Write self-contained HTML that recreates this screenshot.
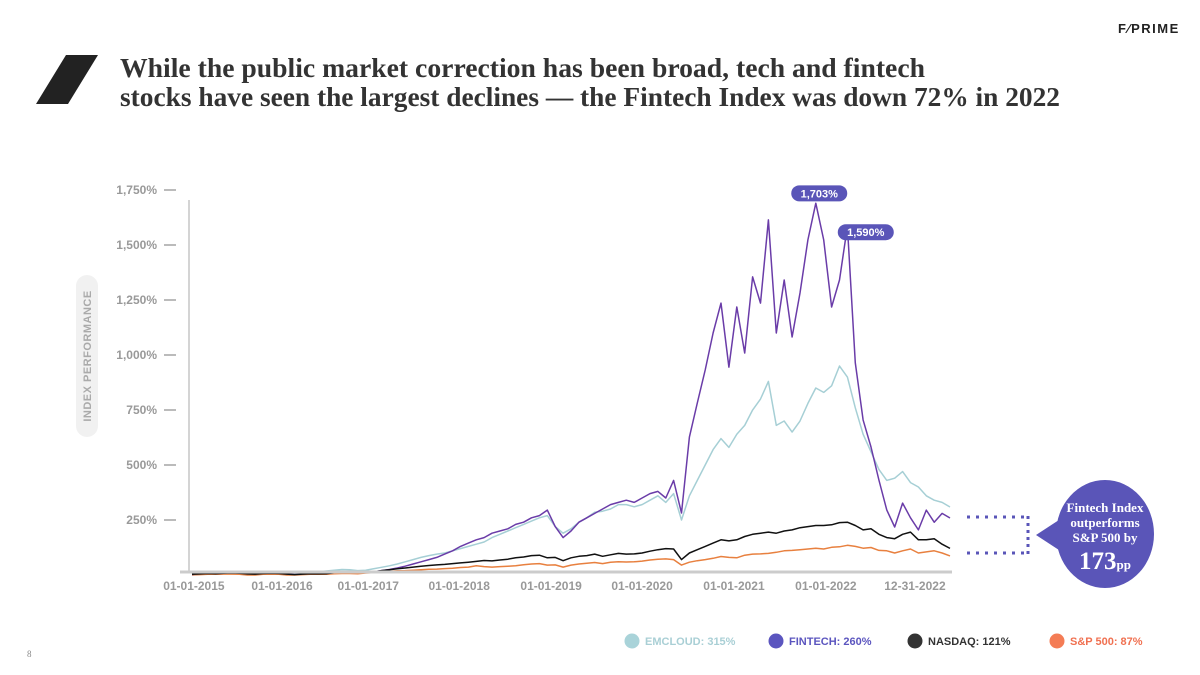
<!DOCTYPE html>
<html><head><meta charset="utf-8"><style>
html,body{margin:0;padding:0;background:#fff;}
svg{display:block;font-family:"Liberation Sans",sans-serif;}
</style></head><body>
<svg id="chart" width="1200" height="675" viewBox="0 0 1200 675" xmlns="http://www.w3.org/2000/svg">
<text x="1118" y="33" font-size="13" font-weight="bold" fill="#222" letter-spacing="1.5">F⁄PRIME</text>
<polygon points="66,55 98,55 68,104 36,104" fill="#222"/>
<g font-family="Liberation Serif, serif" font-weight="bold" fill="#333" font-size="27">
<text x="120" y="77" textLength="805" lengthAdjust="spacingAndGlyphs">While the public market correction has been broad, tech and fintech</text>
<text x="120" y="106" textLength="940" lengthAdjust="spacingAndGlyphs">stocks have seen the largest declines — the Fintech Index was down 72% in 2022</text>
</g>
<rect x="76" y="275" width="22" height="162" rx="11" fill="#f1f1f1"/>
<text transform="translate(91,356) rotate(-90)" text-anchor="middle" font-size="11" font-weight="bold" fill="#aaa" letter-spacing="0.5">INDEX PERFORMANCE</text>
<g id="yaxis"></g>
<g id="xaxis"></g>
<line x1="189" y1="200" x2="189" y2="572" stroke="#aaa" stroke-width="1"/>
<g id="series"></g>
<line x1="180" y1="572" x2="952" y2="572" stroke="#ccc" stroke-width="3"/>
<g id="badges"></g>
<g>
<line x1="967" y1="517" x2="1026" y2="517" stroke="#5a55b8" stroke-width="3" stroke-dasharray="3,6"/>
<line x1="967" y1="553" x2="1026" y2="553" stroke="#5a55b8" stroke-width="3" stroke-dasharray="3,6"/>
<line x1="1028" y1="516" x2="1028" y2="554" stroke="#5a55b8" stroke-width="3" stroke-dasharray="3,4"/>
<polygon points="1036,535 1062,518 1062,552" fill="#5a55b8"/>
<ellipse cx="1105" cy="534" rx="49" ry="54" fill="#5a55b8"/>
<g font-family="Liberation Serif, serif" font-weight="bold" fill="#fff" text-anchor="middle">
<text x="1105" y="512" font-size="13">Fintech Index</text>
<text x="1105" y="527" font-size="13">outperforms</text>
<text x="1105" y="542" font-size="13">S&amp;P 500 by</text>
<text x="1105" y="569" font-size="25">173<tspan font-size="13">pp</tspan></text>
</g>
</g>
<g id="legend"></g>
<text x="27" y="657" font-size="9" fill="#888" font-family="Liberation Serif, serif">8</text>
</svg>
<script>
var startYear = 2015;
var yTicks = [250, 500, 750, 1000, 1250, 1500, 1750];
var yTickLabels = ["250%", "500%", "750%", "1,000%", "1,250%", "1,500%", "1,750%"];
var xTickDates = [2015.02, 2015.95, 2016.86, 2017.82, 2018.79, 2019.75, 2020.72, 2021.69, 2022.63];
var xTickLabels = ["01-01-2015","01-01-2016","01-01-2017","01-01-2018","01-01-2019","01-01-2020","01-01-2021","01-01-2022","12-31-2022"];
var emcloud = [5,8,10,12,14,15,12,10,8,12,14,15, 10,5,8,12,15,18,22,25,24,20,22,28, 35,42,50,60,70,80,88,95,100,110,120,130, 140,150,170,185,200,215,230,245,260,270,220,190, 210,240,260,285,290,300,320,320,310,320,340,360, 330,370,250,360,430,500,570,620,580,640,680,750, 800,880,680,700,650,700,780,850,830,860,950,900, 760,640,560,480,430,440,470,420,400,360,340,330, 309];
var fintech = [0,3,5,4,6,8,7,5,4,6,8,7, 5,2,3,5,7,6,8,10,9,8,12,15, 20,25,32,40,50,60,70,80,95,110,130,145, 160,170,190,200,210,230,240,260,270,295,220,170, 200,240,260,280,300,320,330,340,330,350,370,380, 350,430,282,627,782,932,1100,1236,945,1218,1009,1355, 1236,1614,1100,1341,1082,1282,1523,1690,1523,1218,1341,1585, 964,705,582,432,295,218,327,260,205,295,240,280, 259];
var nasdaq = [3,5,7,6,8,9,8,5,4,7,8,7, 4,2,4,6,5,6,10,12,12,13,14,15, 20,24,28,32,36,40,43,46,48,52,55,58, 62,66,64,68,72,78,82,88,90,78,80,65, 78,85,88,95,85,92,98,95,96,100,108,115, 120,118,70,100,115,130,145,160,155,160,175,185, 190,195,190,200,205,215,220,225,225,228,238,240, 225,205,210,185,170,165,185,195,160,160,165,140, 121];
var sp500 = [1,2,3,3,4,4,3,0,0,3,4,3, 0,0,2,3,3,3,6,7,7,6,9,11, 14,17,19,20,22,24,26,27,29,31,34,36, 42,38,36,38,40,42,47,50,52,45,46,36, 45,50,53,57,52,58,60,59,60,63,68,72, 73,70,45,58,65,70,76,84,80,78,90,95, 96,98,103,110,112,115,118,122,118,126,128,135, 130,122,125,112,110,100,110,118,100,105,110,100, 87];
var seriesNames = ["EMCLOUD: 315%", "FINTECH: 260%", "NASDAQ: 121%", "S&P 500: 87%"];
var badgeValues = [1703, 1590];
var badgeLabels = ["1,703%", "1,590%"];
var badgeDates = [2021.62, 2021.9];

var NS = "http://www.w3.org/2000/svg";
function xScale(t){ return 192 + (t - startYear) * 94.75; }
function yScale(v){ return 575 - v * 0.22; }
function mk(tag, attrs, parent){ var e=document.createElementNS(NS,tag); for(var k in attrs) e.setAttribute(k, attrs[k]); parent.appendChild(e); return e; }

var ya = document.getElementById('yaxis');
yTicks.forEach(function(v,i){
  var y = yScale(v);
  var t = mk('text',{x:157,y:y+4,'text-anchor':'end','font-size':12,'font-weight':'bold',fill:'#999'},ya);
  t.textContent = yTickLabels[i];
  
  
  var l = mk('line',{x1:164,x2:176,y1:y,y2:y,stroke:'#bbb','stroke-width':2},ya);
  
  
});
var xa = document.getElementById('xaxis');
xTickDates.forEach(function(d,i){
  var t = mk('text',{x:xScale(d),y:590,'text-anchor':'middle','font-size':12,'font-weight':'bold',fill:'#999'},xa);
  t.textContent = xTickLabels[i];
  
  
});
var sg = document.getElementById('series');
function drawLine(vals, color, w, name){
  var d = vals.map(function(v,i){ return (i?'L':'M') + xScale(startYear + i/12).toFixed(1) + ',' + yScale(v).toFixed(1); }).join(' ');
  var p = mk('path',{d:d,fill:'none',stroke:color,'stroke-width':w,'stroke-linejoin':'round'},sg);
  
  
}
drawLine(emcloud,'#a6cfd5',1.5,'emcloud-line');
drawLine(fintech,'#6a3ca8',1.5,'fintech-line');
drawLine(sp500,'#e8803f',1.5,'sp500-line');
drawLine(nasdaq,'#111',1.5,'nasdaq-line');

var bg = document.getElementById('badges');
badgeValues.forEach(function(v,i){
  var cx = xScale(badgeDates[i]) + (i===0?0:20);
  var cy = i===0 ? yScale(v) - 7 : yScale(v) + 7;
  var r = mk('rect',{x:cx-28,y:cy-8,width:56,height:16,rx:8,fill:'#5a55b8'},bg);
  
  
  var t = mk('text',{x:cx,y:cy+4,'text-anchor':'middle','font-size':11,'font-weight':'bold',fill:'#fff'},bg);
  t.textContent = badgeLabels[i];
  
  
});

var lg = document.getElementById('legend');
var legColors = ['#a9d3d9','#5b55bf','#333','#f47c55'];
var legText = ['#a9cfd5','#5b55bf','#333','#f07050'];
var legX = [632, 776, 915, 1057];
seriesNames.forEach(function(n,i){
  var c = mk('circle',{cx:legX[i],cy:641,r:7.5,fill:legColors[i]},lg);
  
  
  var t = mk('text',{x:legX[i]+13,y:645,'font-size':11,'font-weight':'bold',fill:legText[i]},lg);
  t.textContent = n;
  
  
});
</script>
</body></html>
